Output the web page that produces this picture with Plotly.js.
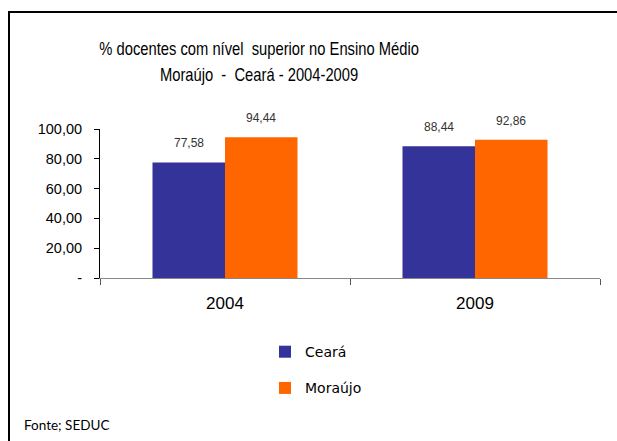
<!DOCTYPE html>
<html>
<head>
<meta charset="utf-8">
<script src="https://cdn.plot.ly/plotly-3.0.1.min.js"></script>
<style>html,body{margin:0;padding:0;background:#fff;}#chart{width:617px;height:441px;}</style>
</head>
<body>
<div id="chart"></div>
<script>
const years = ['2004', '2009'];
const ceara = [77.58, 88.44];
const moraujo = [94.44, 92.86];
const yTickVals = [0, 20, 40, 60, 80, 100];
const yTickText = ['-', '20,00', '40,00', '60,00', '80,00', '100,00'];
const titleLines = ['% docentes com nível  superior no Ensino Médio', 'Moraújo  -  Ceará - 2004-2009'];
const sourceText = 'Fonte; SEDUC';

const labelFont = {family: 'Liberation Sans, Arial, sans-serif', size: 12, color: '#333333'};
const px = v => (v - 100) / 500, py = v => (278 - v) / 149;

const series = [
  {name: 'Ceará', values: ceara, color: '#333399', shift: -36},
  {name: 'Moraújo', values: moraujo, color: '#FF6600', shift: 36}
];

const traces = series.map((s, i) => ({
  type: 'bar', name: s.name, x: years, y: s.values, marker: {color: s.color},
  hoverinfo: 'none', legendgroup: 'g' + i
}));

const annotations = [];
series.forEach(s => {
  years.forEach((yr, j) => {
    annotations.push({x: j, y: s.values[j], xref: 'x', yref: 'y', xshift: s.shift, yshift: 19,
      yanchor: 'middle', xanchor: 'center', showarrow: false,
      text: s.values[j].toFixed(2).replace('.', ','), font: labelFont});
  });
});
const titleStart = annotations.length;
titleLines.forEach((t, i) => {
  annotations.push({text: t, xref: 'paper', yref: 'paper', x: px(259), y: py(49 + 26 * i),
    xanchor: 'center', yanchor: 'middle', showarrow: false,
    font: {family: 'Liberation Sans, Arial, sans-serif', size: 18, color: '#000'}});
});
annotations.push({text: sourceText, xref: 'paper', yref: 'paper', x: px(22), y: py(425), xanchor: 'left', yanchor: 'middle',
  showarrow: false, font: {family: 'Lato, sans-serif', size: 13.5, color: '#000'}});

const layout = {
  width: 617, height: 441,
  margin: {l: 100, r: 17, t: 129, b: 163},
  paper_bgcolor: '#fff', plot_bgcolor: '#fff',
  separators: ',.',
  showlegend: true,
  barmode: 'group', bargap: 0.42, bargroupgap: 0,
  font: {family: 'Liberation Sans, Arial, sans-serif', color: '#000'},
  xaxis: {type: 'category', range: [-0.5, 1.5], showline: true, linecolor: '#888', linewidth: 1, ticks: 'outside', tickson: 'boundaries',
          ticklen: 6, tickcolor: '#555', tickfont: {size: 17, color: '#000'}, ticklabelstandoff: 10,
          showgrid: false, zeroline: false, fixedrange: true},
  yaxis: {range: [0, 100], tickvals: yTickVals, ticktext: yTickText, showline: true, linecolor: '#000', linewidth: 1,
          ticks: 'outside', ticklen: 5, tickcolor: '#000', tickfont: {size: 14.5, color: '#000'}, ticklabelstandoff: 9,
          showgrid: false, zeroline: false, fixedrange: true},
  legend: {orientation: 'v', x: 0.33, xanchor: 'left', y: -0.39, yanchor: 'top', traceorder: 'grouped', tracegroupgap: 15,
           font: {family: 'DejaVu Sans, sans-serif', size: 14, color: '#000'}, bgcolor: 'rgba(0,0,0,0)'},
  annotations: annotations,
  shapes: [
    {type: 'path', xref: 'paper', yref: 'paper',
     path: `M ${px(9)} ${py(445)} L ${px(9)} ${py(12)} L ${px(617)} ${py(12)}`, line: {color: '#000', width: 2}}
  ]
};

Plotly.newPlot('chart', traces, layout, {displayModeBar: false, staticPlot: true}).then(gd => {
  // narrow (condensed) rendering of the title lines, like the reference's Arial Narrow
  const groups = gd.querySelectorAll('g.annotation');
  groups.forEach(g => {
    const idx = +g.getAttribute('data-index');
    if (idx >= titleStart && idx < titleStart + titleLines.length) {
      const t = g.querySelector('text.annotation-text');
      if (!t) return;
      const bb = t.getBBox();
      const cx = bb.x + bb.width / 2;
      const prev = t.getAttribute('transform') || '';
      t.setAttribute('transform', `${prev} translate(${cx},0) scale(0.82,1) translate(${-cx},0)`);
    }
  });
});
</script>
</body>
</html>
